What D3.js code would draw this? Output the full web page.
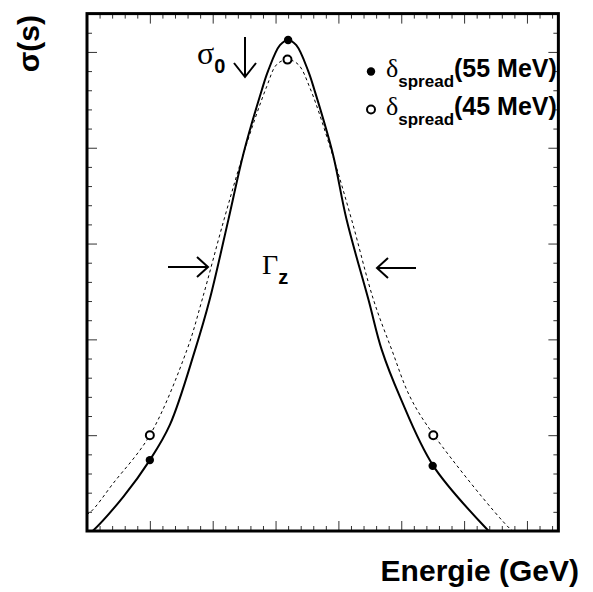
<!DOCTYPE html>
<html><head><meta charset="utf-8">
<script src="https://cdn.jsdelivr.net/npm/d3@7"></script>
<style>body{margin:0;background:#fff}</style>
</head><body>
<svg id="c" width="593" height="592"></svg>
<script>
// Energy axis (GeV) and sigma axis (arbitrary units)
const xDomain = [88, 95.5];
const yDomain = [0, 5.4];
const xMajorTicks = [89, 90, 91, 92, 93, 94, 95];
const yMajorTicks = [1, 2, 3, 4, 5];

// solid curve: delta_spread 55 MeV
const solidX = [87.95, 88.09, 88.58, 89.00, 89.32, 89.72, 89.95, 90.25, 90.49, 90.78, 90.88, 91.07, 91.20, 91.33, 91.52, 91.62, 91.91, 92.13, 92.48, 92.69, 92.98, 93.51, 94.39, 94.5];
const solidY = [-0.07, 0.00, 0.36, 0.74, 1.11, 1.89, 2.41, 3.25, 3.94, 4.60, 4.80, 5.07, 5.125, 5.07, 4.80, 4.60, 3.94, 3.25, 2.41, 1.89, 1.40, 0.68, 0.00, -0.07];
// dashed curve: delta_spread 45 MeV
const dashX = [87.9, 88.04, 88.42, 89.00, 89.59, 89.83, 90.18, 90.49, 90.86, 91.02, 91.19, 91.36, 91.55, 91.90, 92.21, 92.56, 92.85, 93.14, 93.52, 94.72, 94.9];
const dashY = [0.15, 0.19, 0.50, 1.00, 1.89, 2.41, 3.25, 3.94, 4.64, 4.87, 4.92, 4.87, 4.62, 3.94, 3.25, 2.41, 1.89, 1.40, 1.00, 0.03, -0.06];

// markers
const filledX = [89.0, 91.2, 93.5];
const filledY = [0.74, 5.125, 0.68];
const openX = [89.0, 91.19, 93.51];
const openY = [1.0, 4.92, 1.0];

const legendLabels = ["(55 MeV)", "(45 MeV)"];

const svg = d3.select("#c");
const L = 87, T = 13.6, B = 531;
const pxPerGeV = 62.85;
const R = L + (xDomain[1] - xDomain[0]) * pxPerGeV;
const x = d3.scaleLinear().domain(xDomain).range([L, R]);
const y = d3.scaleLinear().domain(yDomain).range([B, T]);

const xMinor = d3.range(88, 95.501, 0.2).filter(v => Math.abs(v - Math.round(v)) > 1e-6);
const yMinor = d3.range(0, 5.401, 0.2).filter(v => Math.abs(v - Math.round(v)) > 1e-6);

function tickAxis(gen, scale, vals, size, transform) {
  const g = svg.append("g").attr("transform", transform)
    .call(gen(scale).tickValues(vals).tickSize(size).tickSizeOuter(0).tickFormat(""));
  g.select(".domain").remove();
  g.selectAll(".tick line").attr("stroke", "#333").attr("stroke-width", 1);
}
tickAxis(d3.axisBottom, x, xMajorTicks, -10, `translate(0,${B})`);
tickAxis(d3.axisBottom, x, xMinor, -5, `translate(0,${B})`);
tickAxis(d3.axisTop, x, xMajorTicks, -10, `translate(0,${T})`);
tickAxis(d3.axisTop, x, xMinor, -5, `translate(0,${T})`);
tickAxis(d3.axisLeft, y, yMajorTicks, -10, `translate(${L},0)`);
tickAxis(d3.axisLeft, y, yMinor, -5, `translate(${L},0)`);
tickAxis(d3.axisRight, y, yMajorTicks, -10, `translate(${R},0)`);
tickAxis(d3.axisRight, y, yMinor, -5, `translate(${R},0)`);

svg.append("clipPath").attr("id", "clip").append("rect")
  .attr("x", L).attr("y", T).attr("width", R - L).attr("height", B - T);

const line = d3.line().x(d => x(d[0])).y(d => y(d[1])).curve(d3.curveCatmullRom.alpha(0.5));
const solid = solidX.map((v, i) => [v, solidY[i]]);
const dashed = dashX.map((v, i) => [v, dashY[i]]);

const plot = svg.append("g").attr("clip-path", "url(#clip)");
plot.append("path").attr("d", line(dashed)).attr("fill", "none")
  .attr("stroke", "#000").attr("stroke-width", 1).attr("stroke-dasharray", "3,3");
plot.append("path").attr("d", line(solid)).attr("fill", "none")
  .attr("stroke", "#000").attr("stroke-width", 2);

plot.selectAll("circle.f").data(filledX).enter().append("circle")
  .attr("cx", (d) => x(d)).attr("cy", (d, i) => y(filledY[i])).attr("r", 4.2).attr("fill", "#000");
plot.selectAll("circle.o").data(openX).enter().append("circle")
  .attr("cx", (d) => x(d)).attr("cy", (d, i) => y(openY[i])).attr("r", 4)
  .attr("fill", "#fff").attr("stroke", "#000").attr("stroke-width", 2);

svg.append("rect").attr("x", L).attr("y", T).attr("width", R - L).attr("height", B - T)
  .attr("fill", "none").attr("stroke", "#000").attr("stroke-width", 3);

const sans = "Liberation Sans, Arial, Helvetica, sans-serif";
const serif = "Liberation Serif, Times New Roman, serif";

svg.append("text").attr("x", 579).attr("y", 581).attr("text-anchor", "end")
  .attr("font-family", sans).attr("font-weight", "bold").attr("font-size", 30).text("Energie (GeV)");
svg.append("text").attr("transform", "translate(39,15) rotate(-90)").attr("text-anchor", "end")
  .attr("font-family", sans).attr("font-weight", "bold").attr("font-size", 30).text("σ(s)");

const s0 = svg.append("text").attr("x", 197).attr("y", 64);
s0.append("tspan").attr("font-family", serif).attr("font-size", 32).text("σ");
s0.append("tspan").attr("font-family", sans).attr("font-weight", "bold").attr("font-size", 20).attr("dy", 9).text("0");
const arrowG = svg.append("g").attr("stroke", "#000").attr("stroke-width", 2).attr("fill", "none");
arrowG.append("line").attr("x1", 245).attr("y1", 37).attr("x2", 245).attr("y2", 76);
arrowG.append("polyline").attr("points", "234,63 245,77 256,63");

const gz = svg.append("text").attr("x", 262).attr("y", 274);
gz.append("tspan").attr("font-family", serif).attr("font-size", 28).text("Γ");
gz.append("tspan").attr("font-family", sans).attr("font-weight", "bold").attr("font-size", 20).attr("dy", 10).text("z");
arrowG.append("line").attr("x1", 168).attr("y1", 267).attr("x2", 208).attr("y2", 267);
arrowG.append("polyline").attr("points", "197,257 208,267 197,277");
arrowG.append("line").attr("x1", 377).attr("y1", 268).attr("x2", 416).attr("y2", 268);
arrowG.append("polyline").attr("points", "388,258 377,268 388,278");

const legY = [77, 115];
legendLabels.forEach((lab, i) => {
  if (i === 0) svg.append("circle").attr("cx", 371).attr("cy", legY[i] - 5.5).attr("r", 4.2).attr("fill", "#000");
  else svg.append("circle").attr("cx", 371).attr("cy", legY[i] - 5.5).attr("r", 4)
    .attr("fill", "#fff").attr("stroke", "#000").attr("stroke-width", 2);
  const t = svg.append("text").attr("x", 386).attr("y", legY[i]);
  t.append("tspan").attr("font-family", serif).attr("font-size", 26).text("δ");
  t.append("tspan").attr("font-family", sans).attr("font-weight", "bold").attr("font-size", 17).attr("dy", 10).text("spread");
  t.append("tspan").attr("font-family", sans).attr("font-weight", "bold").attr("font-size", 25).attr("dy", -10).text(lab);
});
</script>
</body></html>
